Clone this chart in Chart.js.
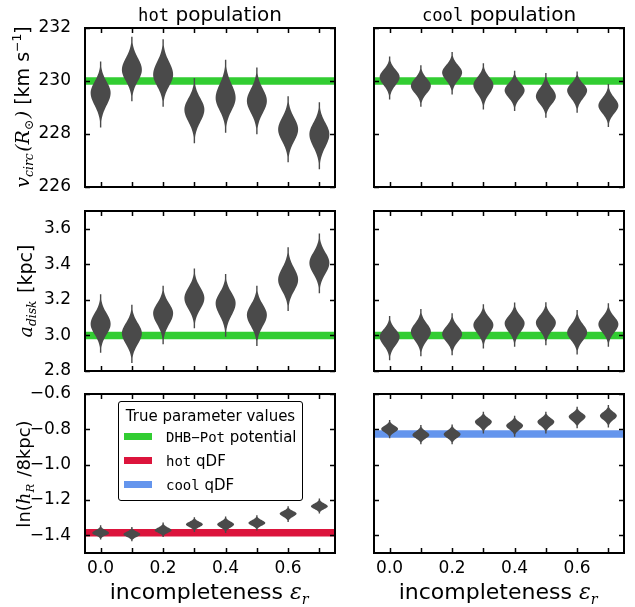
<!DOCTYPE html>
<html>
<head>
<meta charset="utf-8">
<script src="https://cdn.jsdelivr.net/npm/chart.js@4.4.0/dist/chart.umd.min.js"></script>
<style>
  body { margin: 0; background: #fff; }
  #fig { position: relative; width: 635px; height: 607px; overflow: hidden; font-family: 'DejaVu Sans', sans-serif; color: #000; }
  #fig canvas { position: absolute; }
  .lbl { position: absolute; white-space: nowrap; line-height: 1; }
  .tt { font-family: 'DejaVu Sans Mono', monospace; font-size: 0.86em; }
  .m { font-family: 'DejaVu Serif', serif; font-style: italic; }
  .lbl sub { font-size: 0.65em; vertical-align: -0.35em; line-height: 0; padding-right: 0.12em; }
  .lbl sup { font-size: 0.65em; vertical-align: 0.6em; line-height: 0; }
  .rot { transform: translate(-50%, -50%) rotate(-90deg); }
  #legend { position: absolute; left: 118px; top: 401px; width: 185px; height: 100px; box-sizing: border-box;
            border: 1.5px solid #000; border-radius: 3px; background: #fff; font-size: 15px; }
  #legend .lt { position: absolute; left: 0; right: 0; top: 5px; text-align: center; }
  #legend .row { position: absolute; left: 47px; white-space: nowrap; }
  #legend i { position: absolute; left: -42px; top: 5px; width: 28px; height: 7px; }
</style>
</head>
<body>
<div id="fig">
  <div class="lbl" style="left:85px;width:250px;top:4px;text-align:center;font-size:20px"><span class="tt">hot</span> population</div>
  <div class="lbl" style="left:374px;width:250px;top:4px;text-align:center;font-size:20px"><span class="tt">cool</span> population</div>

  <div class="lbl rot" style="left:22px;top:107px;font-size:19px"><span class="m">v<sub>circ</sub>(R<sub>⊙</sub>)</span> [km s<sup>−1</sup>]</div>
  <div class="lbl rot" style="left:25px;top:291px;font-size:19px"><span class="m">a<sub>disk</sub></span> [kpc]</div>
  <div class="lbl rot" style="left:24px;top:474px;font-size:18px">ln(<span class="m">h<sub>R</sub></span> /8kpc)</div>

  <div class="lbl" style="left:85px;width:250px;top:581px;text-align:center;font-size:22px">incompleteness <span class="m">ε<sub>r</sub></span></div>
  <div class="lbl" style="left:374px;width:250px;top:581px;text-align:center;font-size:22px">incompleteness <span class="m">ε<sub>r</sub></span></div>
</div>
<script>
const eps = [0.0, 0.1, 0.2, 0.3, 0.4, 0.5, 0.6, 0.7];
const xTicks = [0.0, 0.1, 0.2, 0.3, 0.4, 0.5, 0.6, 0.7];

const vcircTicks = [226, 228, 230, 232];
const adiskTicks = [2.8, 3.0, 3.2, 3.4, 3.6];
const lnhRTicks = [-1.4, -1.2, -1.0, -0.8, -0.6];

// true parameter values
const trueVcirc = 230;
const trueAdisk = 3.0;
const trueLnhRHot = -1.386;
const trueLnhRCool = -0.827;

// violins: peak, lower end, upper end
const hotVcirc = [229.55, 230.42, 230.24, 228.92, 229.36, 229.25, 228.17, 227.99];
const hotVcircLo = [228.25, 229.24, 229.03, 227.65, 228.05, 227.99, 226.93, 226.67];
const hotVcircHi = [230.74, 231.67, 231.58, 230.11, 230.80, 230.51, 229.42, 229.20];

const coolVcirc = [230.15, 229.82, 230.32, 229.85, 229.65, 229.42, 229.65, 229.07];
const coolVcircLo = [229.30, 229.03, 229.49, 228.92, 228.87, 228.61, 228.80, 228.26];
const coolVcircHi = [230.92, 230.59, 231.09, 230.67, 230.39, 230.30, 230.36, 229.89];

const hotAdisk = [3.064, 3.012, 3.125, 3.210, 3.181, 3.115, 3.313, 3.408];
const hotAdiskLo = [2.902, 2.845, 2.951, 3.040, 2.993, 2.941, 3.138, 3.238];
const hotAdiskHi = [3.232, 3.172, 3.279, 3.376, 3.345, 3.279, 3.496, 3.573];

const coolAdisk = [2.992, 3.021, 3.008, 3.059, 3.068, 3.072, 3.017, 3.063];
const coolAdiskLo = [2.860, 2.883, 2.889, 2.927, 2.936, 2.945, 2.893, 2.936];
const coolAdiskHi = [3.110, 3.149, 3.125, 3.176, 3.185, 3.187, 3.143, 3.181];

const hotLnhR = [-1.387, -1.394, -1.372, -1.338, -1.338, -1.330, -1.277, -1.236];
const hotLnhRLo = [-1.424, -1.434, -1.410, -1.381, -1.387, -1.372, -1.325, -1.277];
const hotLnhRHi = [-1.343, -1.353, -1.328, -1.297, -1.293, -1.287, -1.236, -1.192];

const coolLnhR = [-0.798, -0.832, -0.828, -0.757, -0.779, -0.757, -0.728, -0.723];
const coolLnhRLo = [-0.851, -0.885, -0.885, -0.823, -0.842, -0.823, -0.794, -0.789];
const coolLnhRHi = [-0.747, -0.775, -0.772, -0.700, -0.723, -0.700, -0.672, -0.662];

const GREEN = '#32cd32';
const RED = '#dc143c';
const BLUE = '#6495ed';
const VIOLIN = '#4a4a4a';

Chart.defaults.font.family = "'DejaVu Sans', sans-serif";
Chart.defaults.font.size = 17;
Chart.defaults.color = '#000';

function fmt(v, digits) {
    const s = Math.abs(v).toFixed(digits);
    return v < 0 ? '\u2212' + s : s;
}

function drawViolin(ctx, xs, ys, xv, c, lo, hi, hw) {
    const cx = xs.getPixelForValue(xv);
    const w = Math.abs(xs.getPixelForValue(xv + hw) - cx);
    const pts = [];
    const n = 24;
    for (let k = 0; k <= n; k++) {
        const v = lo + (c - lo) * k / n;
        pts.push([v, (c - lo) / 2.8]);
    }
    for (let k = 1; k <= n; k++) {
        const v = c + (hi - c) * k / n;
        pts.push([v, (hi - c) / 2.8]);
    }
    const prof = pts.map(([v, s]) => [ys.getPixelForValue(v), Math.max(w * Math.exp(-0.5 * ((v - c) / s) ** 2), 0.7)]);
    ctx.beginPath();
    prof.forEach(([py, d], k) => k ? ctx.lineTo(cx + d, py) : ctx.moveTo(cx + d, py));
    for (let k = prof.length - 1; k >= 0; k--) ctx.lineTo(cx - prof[k][1], prof[k][0]);
    ctx.closePath();
    ctx.fill();
}

const panelDecor = {
    id: 'panelDecor',
    afterDatasetsDraw(chart) {
        const { ctx, chartArea: a, scales: { x, y } } = chart;
        ctx.save();
        chart.data.datasets.forEach(ds => {
            if (!ds.violin) return;
            ctx.fillStyle = ds.backgroundColor;
            ds.data.forEach((p, i) => drawViolin(ctx, x, y, p.x, p.y, ds.lo[i], ds.hi[i], ds.halfWidth));
        });

        ctx.strokeStyle = '#000';
        ctx.lineWidth = 1.5;
        ctx.beginPath();
        x.ticks.forEach(t => {
            const px = Math.round(x.getPixelForValue(t.value)) + 0.5;
            ctx.moveTo(px, a.top); ctx.lineTo(px, a.top + 5);
            ctx.moveTo(px, a.bottom); ctx.lineTo(px, a.bottom - 5);
        });
        y.ticks.forEach(t => {
            const py = Math.round(y.getPixelForValue(t.value)) + 0.5;
            ctx.moveTo(a.left, py); ctx.lineTo(a.left + 5, py);
            ctx.moveTo(a.right, py); ctx.lineTo(a.right - 5, py);
        });
        ctx.stroke();
        ctx.lineWidth = 2;
        ctx.strokeRect(a.left, a.top, a.right - a.left, a.bottom - a.top);
        ctx.restore();
    }
};

function makePanel(p) {
    const canvas = document.createElement('canvas');
    canvas.width = p.width;
    canvas.height = p.height;
    canvas.style.left = p.left + 'px';
    canvas.style.top = p.top + 'px';
    document.getElementById('fig').insertBefore(canvas, document.getElementById('fig').firstChild);

    return new Chart(canvas, {
        type: 'scatter',
        data: {
            datasets: [{
                type: 'line',
                data: [{ x: -0.05, y: p.truth }, { x: 0.75, y: p.truth }],
                borderColor: p.bandColor,
                borderWidth: 7.5,
                borderCapStyle: 'butt',
                pointRadius: 0,
                clip: 0
            }, {
                type: 'scatter',
                violin: true,
                data: eps.map((e, i) => ({ x: e, y: p.center[i] })),
                lo: p.lo,
                hi: p.hi,
                halfWidth: p.halfWidth,
                backgroundColor: VIOLIN,
                pointRadius: 0
            }]
        },
        options: {
            responsive: false,
            animation: false,
            events: [],
            layout: { padding: { top: p.padTop, right: p.padRight, left: 0, bottom: 0 } },
            plugins: { legend: { display: false }, tooltip: { enabled: false } },
            scales: {
                x: {
                    type: 'linear',
                    min: -0.05,
                    max: 0.75,
                    afterBuildTicks: s => { s.ticks = xTicks.map(v => ({ value: v })); },
                    afterFit: s => { s.height = p.xHeight; },
                    grid: { display: false },
                    border: { display: false },
                    ticks: {
                        display: p.showX,
                        padding: -3,
                        maxRotation: 0,
                        autoSkip: false,
                        callback: (v, i) => (i % 2 === 0 ? fmt(v, 1) : '')
                    }
                },
                y: {
                    type: 'linear',
                    min: p.yMin,
                    max: p.yMax,
                    afterBuildTicks: s => { s.ticks = p.yTicks.map(v => ({ value: v })); },
                    afterFit: s => { s.width = p.yWidth; },
                    grid: { display: false },
                    border: { display: false },
                    ticks: {
                        display: p.showY,
                        padding: 6,
                        autoSkip: false,
                        callback: v => fmt(v, p.digits)
                    }
                }
            }
        },
        plugins: [panelDecor]
    });
}

const cols = [
    { left: 0, width: 345, yWidth: 85, padRight: 10, showY: true },
    { left: 345, width: 290, yWidth: 29, padRight: 11, showY: false }
];
const rows = [
    { top: 0, height: 205, padTop: 28, xHeight: 18, showX: false, yMin: 226, yMax: 232, yTicks: vcircTicks, digits: 0 },
    { top: 190, height: 200, padTop: 21, xHeight: 19, showX: false, yMin: 2.8, yMax: 3.7, yTicks: adiskTicks, digits: 1 },
    { top: 375, height: 232, padTop: 19, xHeight: 54, showX: true, yMin: -1.5, yMax: -0.6, yTicks: lnhRTicks, digits: 1 }
];

const panels = [
    [0, 0, hotVcirc, hotVcircLo, hotVcircHi, trueVcirc, GREEN],
    [0, 1, coolVcirc, coolVcircLo, coolVcircHi, trueVcirc, GREEN],
    [1, 0, hotAdisk, hotAdiskLo, hotAdiskHi, trueAdisk, GREEN],
    [1, 1, coolAdisk, coolAdiskLo, coolAdiskHi, trueAdisk, GREEN],
    [2, 0, hotLnhR, hotLnhRLo, hotLnhRHi, trueLnhRHot, RED],
    [2, 1, coolLnhR, coolLnhRLo, coolLnhRHi, trueLnhRCool, BLUE]
];

panels.forEach(([r, c, center, lo, hi, truth, bandColor]) => {
    makePanel(Object.assign({}, cols[c], rows[r], {
        center, lo, hi, truth, bandColor,
        halfWidth: r === 2 ? 0.027 : 0.032
    }));
});
</script>
<div id="legend" style="position:absolute">
</div>
<script>
const legendItems = [
    { color: GREEN, mono: 'DHB\u2212Pot', text: ' potential' },
    { color: RED, mono: 'hot', text: ' qDF' },
    { color: BLUE, mono: 'cool', text: ' qDF' }
];
const legend = document.getElementById('legend');
document.getElementById('fig').appendChild(legend);
legend.innerHTML = '<div class="lt">True parameter values</div>' + legendItems.map((it, i) =>
    `<div class="row" style="top:${26 + i * 24}px"><i style="background:${it.color}"></i><span class="tt" style="font-size:14px">${it.mono}</span>${it.text}</div>`
).join('');
</script>
</body>
</html>
